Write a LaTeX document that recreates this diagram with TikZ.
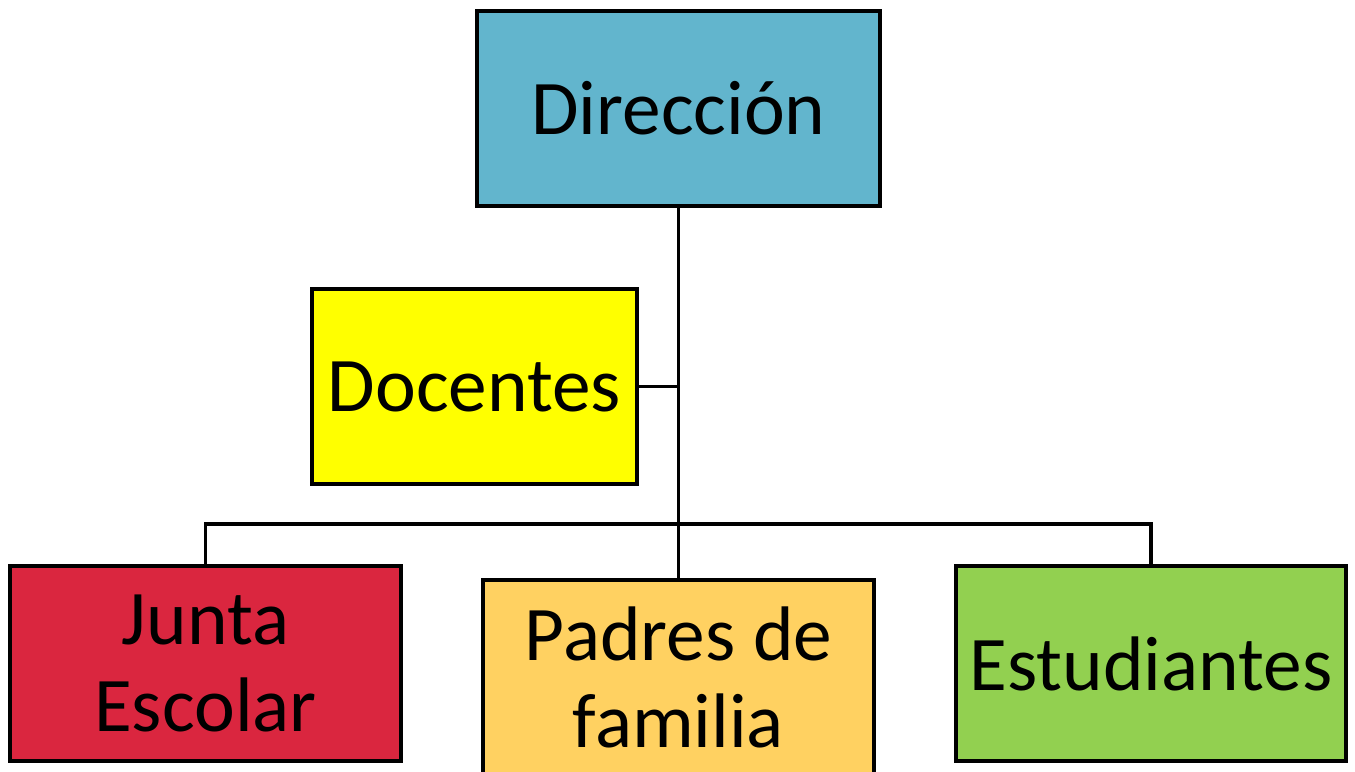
\documentclass[tikz,border=0pt]{standalone}
\usepackage{fontspec}
\setmainfont{Carlito}
\usepackage{tikz}
\usetikzlibrary{positioning}
\definecolor{mcyan}{RGB}{98, 181, 205}
\definecolor{myellow}{RGB}{255, 255, 0}
\definecolor{mred}{RGB}{218, 38, 63}
\definecolor{morange}{RGB}{255, 209, 97}
\definecolor{mgreen}{RGB}{146, 208, 80}
\tikzset{unit/.style = {draw, line width = 2pt, align = center, inner sep = 0pt,
                        minimum height = 3.9cm, font = \fontsize{44}{50}\selectfont},
         link/.style = {line width = 2pt}}

\begin{document}
\begin{tikzpicture}[x = 0.02cm, y = -0.02cm]
      \useasboundingbox (0, 0) rectangle (1355, 771);
      \node [unit, fill = mcyan, minimum width = 8.06cm] (dir) at (678.5, 108.5) {Dirección};
      \node [unit, fill = myellow, minimum width = 6.5cm] (doc) at (474.5, 386.5) {Docentes};
      \node [unit, fill = mred, minimum width = 7.82cm] (jun) at (205.5, 663.5) {Junta\\Escolar};
      \node [unit, fill = morange, minimum width = 7.82cm] (pad) at (678.5, 677.5) {Padres de\\familia};
      \node [unit, fill = mgreen, minimum width = 7.8cm] (est) at (1151, 663.5) {Estudiantes};
      \coordinate (bus) at (678.5, 524);
      \draw [link] (dir.south) -- (pad.north);
      \draw [link] (doc.east) -- (doc.east -| dir.south);
      \draw [link] (jun.north) |- (bus) -| (est.north);
    \end{tikzpicture}
\end{document}
